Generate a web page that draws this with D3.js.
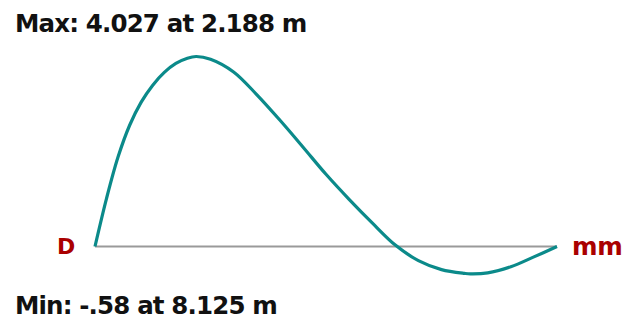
<!DOCTYPE html>
<html><head><meta charset="utf-8">
<script src="https://cdn.jsdelivr.net/npm/d3@7"></script>
<style>html,body{margin:0;padding:0;background:#fff;}svg{display:block;}</style>
</head><body>
<script>
const positions = [0, 0.25, 0.5, 0.75, 1, 1.25, 1.5, 1.75, 2, 2.188, 2.5, 3, 3.5, 4, 4.5, 5, 5.5, 6, 6.5, 7, 7.5, 8, 8.125, 8.5, 9, 9.5, 10];
const deflections = [0, 1.02, 1.90, 2.57, 3.06, 3.42, 3.69, 3.88, 3.99, 4.027, 3.97, 3.70, 3.22, 2.68, 2.11, 1.53, 1.00, 0.50, 0.03, -0.30, -0.49, -0.57, -0.58, -0.56, -0.43, -0.22, 0];
const maxLabel = "Max: 4.027 at 2.188 m";
const minLabel = "Min: -.58 at 8.125 m";
const leftLabel = "D";
const unitLabel = "mm";

const W = 630, H = 323;
const svg = d3.select("body").append("svg").attr("width", W).attr("height", H);
const x = d3.scaleLinear().domain([0, 10]).range([95, 557]);
const y = d3.scaleLinear().domain([0, 4.027]).range([246.5, 56.5]);
const data = positions.map((p, i) => ({p, v: deflections[i]}));

svg.append("line").attr("x1", x(0)).attr("x2", x(10)).attr("y1", y(0)).attr("y2", y(0))
  .attr("stroke", "#9a9a9a").attr("stroke-width", 2);

svg.append("path").datum(data)
  .attr("d", d3.line().x(d => x(d.p)).y(d => y(d.v)).curve(d3.curveCatmullRom.alpha(0.5)))
  .attr("fill", "none").attr("stroke", "#0b8a8a").attr("stroke-width", 3.2);

const txt = (t, xx, yy, size, color, ls) => svg.append("text").text(t)
  .attr("x", xx).attr("y", yy).attr("font-family", "DejaVu Sans, sans-serif")
  .attr("font-weight", "bold").attr("font-size", size).attr("fill", color)
  .attr("letter-spacing", ls);

txt(maxLabel, 15, 31.5, 24.5, "#111", -0.85);
txt(minLabel, 15, 314, 24.5, "#111", -0.85);
txt(leftLabel, 57, 254, 22, "#aa0000", 0);
txt(unitLabel, 572, 255, 24.5, "#aa0000", -0.3);
</script>
</body></html>
